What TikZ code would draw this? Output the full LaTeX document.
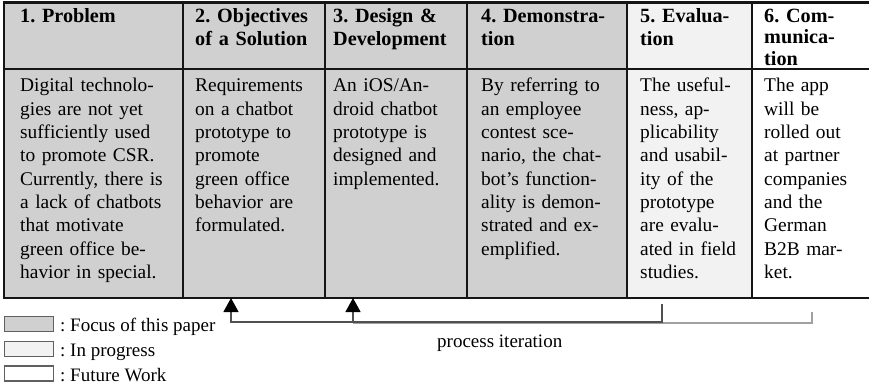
\documentclass[tikz,border=0pt]{standalone}
\usepackage{fontspec}
\setmainfont{Liberation Serif}
\frenchspacing
\usetikzlibrary{arrows.meta}
\definecolor{focus}{HTML}{D0D0D0}
\definecolor{progress}{HTML}{F2F2F2}
\definecolor{rule}{HTML}{151515}
\definecolor{loopdark}{HTML}{505050}
\definecolor{looplight}{HTML}{A0A0A0}
\definecolor{legline}{HTML}{606060}
\tikzset{
  tbl/.style={draw=rule, line width=2.6pt},
  headtxt/.style={anchor=base west, inner sep=0pt, text width=160pt, align=left,
    font=\fontsize{20.2}{23}\selectfont\bfseries},
  headtight/.style={headtxt, font=\fontsize{20.2}{21.4}\selectfont\bfseries},
  bodytxt/.style={anchor=base west, inner sep=0pt, text width=170pt, align=left,
    font=\fontsize{19.4}{23.3}\selectfont},
  legbox/.style={draw=legline, line width=1.3pt, minimum width=49pt, minimum height=15pt, inner sep=0pt},
  legtxt/.style={anchor=base west, inner sep=0pt, font=\fontsize{19}{23}\selectfont},
  iterline/.style={line width=1.2pt},
  iterarrow/.style={iterline, -{Triangle[width=15pt,length=14pt,fill=black,color=black]}}
}
\begin{document}
\begin{tikzpicture}[x=1pt,y=-1pt]
\useasboundingbox (0,0) rectangle (869,385);
% column fills
\fill[focus] (4,2.5) rectangle (627,298);
\fill[progress] (627,2.5) rectangle (752,298);
% table rules
\draw[tbl] (869,2.5) -- (4,2.5) -- (4,298) -- (869,298);
\draw[tbl] (4,69) -- (869,69);
\foreach \x in {183,325,467,627,752} \draw[tbl] (\x,2.5) -- (\x,298);
% headers
\node[headtxt] (h1) at (20,22.5) {1. Problem};
\node[headtxt] (h2) at (195,22.5) {2. Objectives\\of a Solution};
\node[headtxt] (h3) at (333,22.5) {3. Design \&\\Development};
\node[headtxt] (h4) at (481,22.5) {4. Demonstra-\\tion};
\node[headtxt] (h5) at (640,22.5) {5. Evalua-\\tion};
\node[headtight] (h6) at (764,22.3) {6. Com-\\munica-\\tion};
% bodies
\node[bodytxt] (b1) at (20,92) {Digital technolo-\\gies are not yet\\sufficiently used\\to promote CSR.\\Currently, there is\\a lack of chatbots\\that motivate\\green office be-\\havior in special.};
\node[bodytxt] (b2) at (195,92) {Requirements\\on a chatbot\\prototype to\\promote\\green office\\behavior are\\formulated.};
\node[bodytxt] (b3) at (333,92) {An iOS/An-\\droid chatbot\\prototype is\\designed and\\implemented.};
\node[bodytxt] (b4) at (481,92) {By referring to\\an employee\\contest sce-\\nario, the chat-\\bot’s function-\\ality is demon-\\strated and ex-\\emplified.};
\node[bodytxt] (b5) at (640,92) {The useful-\\ness, ap-\\plicability\\and usabil-\\ity of the\\prototype\\are evalu-\\ated in field\\studies.};
\node[bodytxt] (b6) at (764,92) {The app\\will be\\rolled out\\at partner\\companies\\and the\\German\\B2B mar-\\ket.};
% process iteration connectors
\coordinate (t2) at (231,298);
\coordinate (t3) at (353,298);
\coordinate (s5) at (662,304);
\coordinate (s6) at (812,312);
\coordinate (c5) at (662,322);
\coordinate (c2) at (231,322);
\coordinate (c6) at (812,323);
\coordinate (c3) at (353,323);
\draw[iterline, draw=looplight] (s6) -- (c6) -- (c3);
\draw[iterarrow, draw=loopdark] (c3) -- (t3);
\draw[iterarrow, draw=loopdark] (s5) -- (c5) -- (c2) -- (t2);
\node[legtxt] (pi) at (437,347) {process iteration};
% legend
\node[legbox, fill=focus] (l1) at (29,324) {};
\node[legbox, fill=progress] (l2) at (29,349) {};
\node[legbox, fill=white] (l3) at (29,373.5) {};
\node[legtxt] (lt1) at (60,331.5) {: Focus of this paper};
\node[legtxt] (lt2) at (60,356.5) {: In progress};
\node[legtxt] (lt3) at (60,381) {: Future Work};
\end{tikzpicture}
\end{document}
